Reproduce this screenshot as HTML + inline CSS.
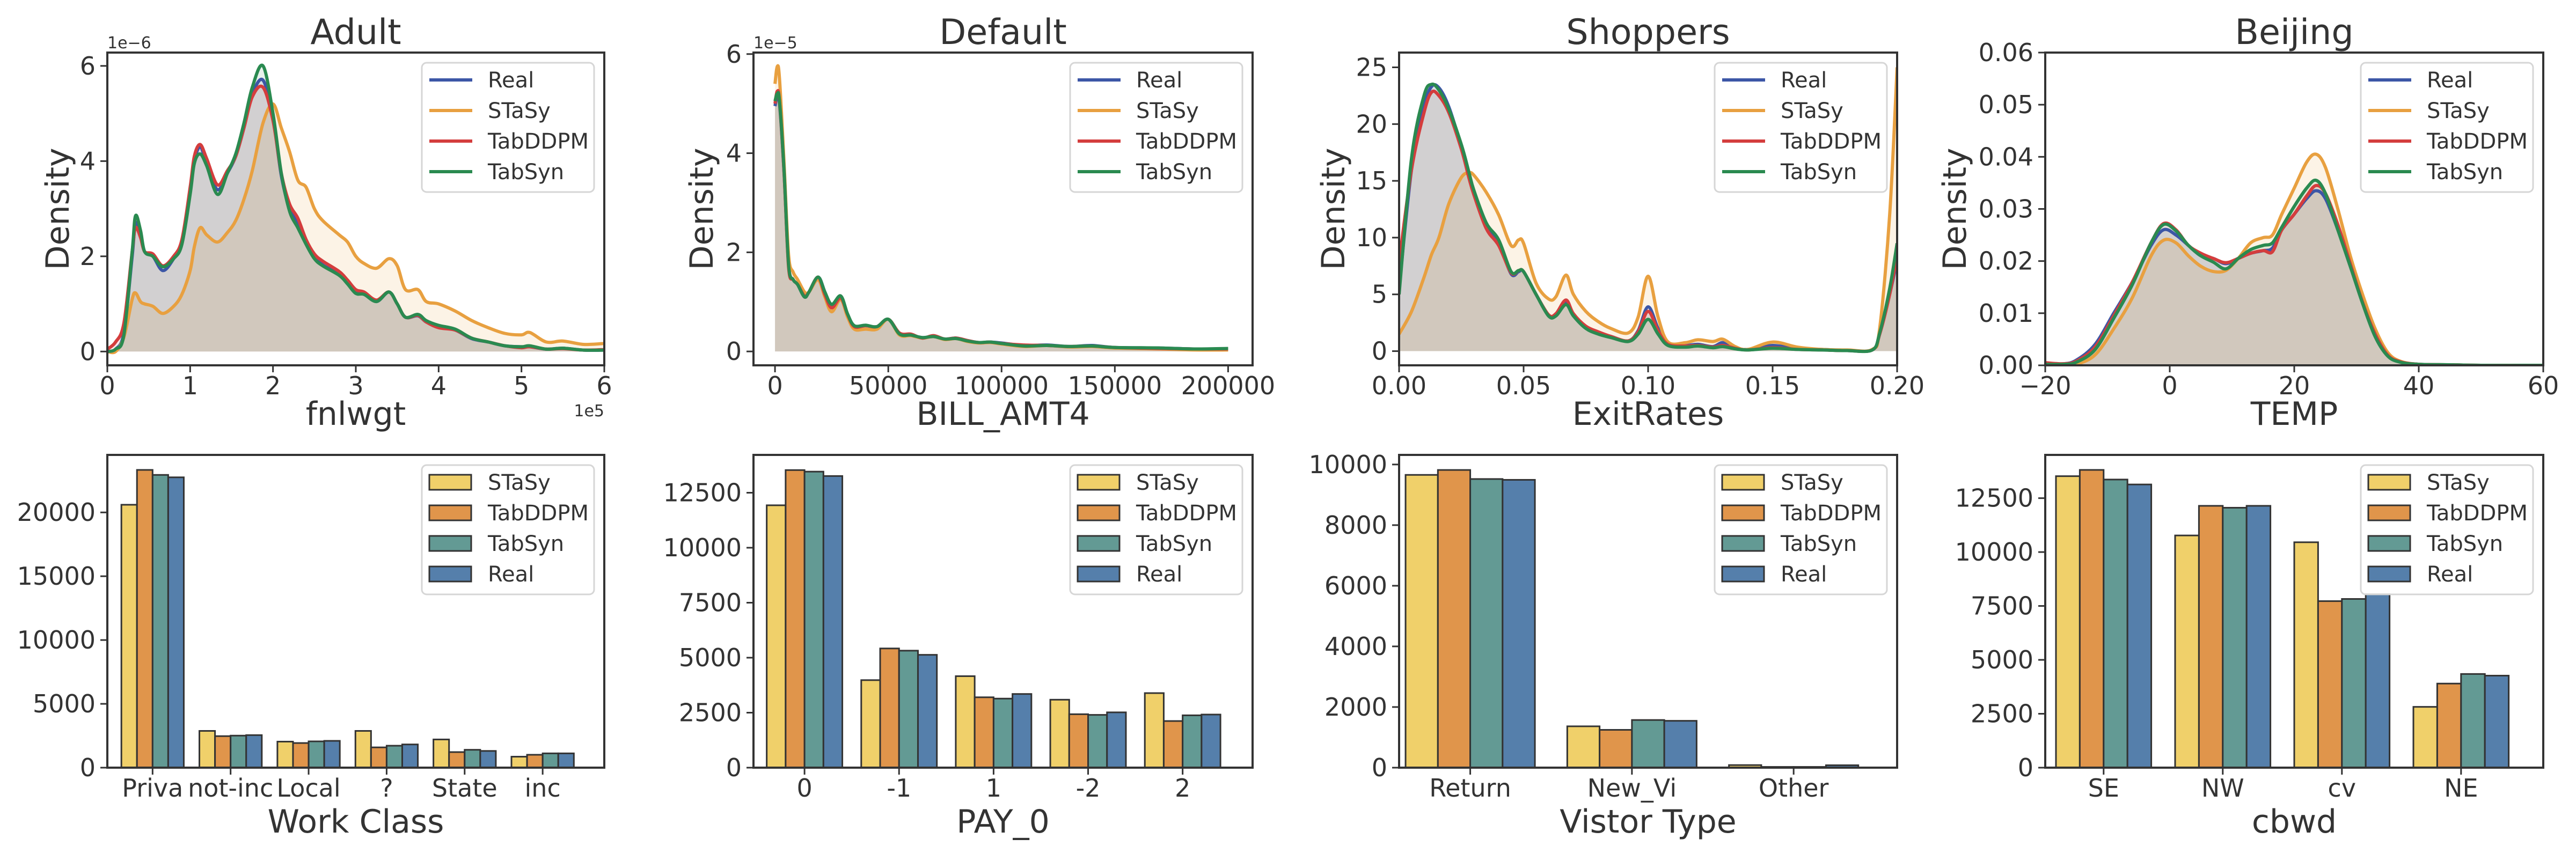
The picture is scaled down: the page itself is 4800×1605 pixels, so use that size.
<!DOCTYPE html>
<html><head><meta charset="utf-8">
<style>
html,body{margin:0;padding:0;background:#fff;}
svg text{font-family:"DejaVu Sans","Liberation Sans",sans-serif;fill:#333;}
</style></head>
<body>
<svg id="fig" xmlns="http://www.w3.org/2000/svg" width="4800" height="1600" viewBox="0 0 4800 1600"></svg>
<script>
// ---------- DATA ----------
// Adult (x in 1e5, y in 1e-6)
const adultX     = [0,0.1,0.2,0.3,0.34,0.4,0.45,0.55,0.67,0.8,0.9,1.0,1.05,1.12,1.2,1.33,1.45,1.55,1.65,1.75,1.88,2.0,2.1,2.2,2.3,2.4,2.5,2.6,2.8,2.9,3.0,3.1,3.25,3.4,3.5,3.6,3.75,3.85,4.0,4.2,4.4,4.6,4.8,5.0,5.1,5.3,5.5,5.75,6.0];
const adultReal  = [0,0.05,0.4,2.0,2.7,2.45,2.1,2.0,1.7,1.95,2.3,3.4,4.0,4.3,3.95,3.4,3.75,4.1,4.7,5.4,5.7,4.9,3.7,3.0,2.7,2.3,2.0,1.82,1.62,1.45,1.25,1.22,1.05,1.25,1.0,0.72,0.75,0.62,0.52,0.45,0.27,0.2,0.12,0.1,0.1,0.05,0.07,0.03,0.03];
const adultSTaSy = [0,0.0,0.3,1.1,1.23,1.05,1.0,0.95,0.8,0.95,1.2,1.7,2.2,2.6,2.45,2.3,2.5,2.75,3.2,3.8,4.8,5.2,4.7,4.2,3.6,3.45,3.0,2.75,2.45,2.3,2.0,1.85,1.75,1.95,1.8,1.3,1.3,1.05,1.0,0.85,0.65,0.5,0.38,0.35,0.4,0.2,0.22,0.15,0.17];
const adultDDPM  = [0.05,0.2,0.6,2.1,2.6,2.4,2.1,2.05,1.8,2.0,2.35,3.45,4.1,4.35,4.05,3.5,3.8,4.1,4.7,5.35,5.55,4.85,3.75,3.1,2.8,2.35,2.05,1.9,1.68,1.5,1.3,1.25,1.08,1.25,1.0,0.72,0.76,0.62,0.5,0.45,0.28,0.2,0.12,0.08,0.1,0.05,0.06,0.03,0.04];
const adultTabSyn= [0,0.05,0.35,2.1,2.85,2.55,2.1,2.0,1.78,1.95,2.25,3.3,3.95,4.15,3.9,3.3,3.75,4.15,4.8,5.55,6.0,5.0,3.75,2.95,2.6,2.25,1.95,1.8,1.6,1.42,1.22,1.2,1.05,1.25,1.0,0.72,0.78,0.65,0.55,0.47,0.28,0.2,0.12,0.1,0.12,0.05,0.07,0.03,0.03];

// Default (x in raw units, y in 1e-5)
const defX     = [0,1000,2000,4000,6000,8000,10000,13000,15000,19000,22000,25000,29000,32000,35000,40000,45000,50000,55000,60000,65000,70000,75000,80000,85000,90000,95000,100000,110000,120000,130000,140000,150000,170000,185000,200000];
const defReal  = [4.95,5.15,5.0,3.6,1.75,1.45,1.35,1.1,1.2,1.5,1.2,0.9,1.1,0.75,0.5,0.52,0.5,0.65,0.35,0.33,0.28,0.3,0.25,0.27,0.22,0.18,0.19,0.17,0.12,0.13,0.1,0.12,0.08,0.07,0.05,0.05];
const defSTaSy = [5.4,5.75,5.5,3.8,1.95,1.6,1.45,1.2,1.2,1.45,1.1,0.8,1.05,0.7,0.45,0.45,0.45,0.65,0.33,0.32,0.27,0.3,0.24,0.26,0.2,0.17,0.18,0.15,0.1,0.12,0.09,0.1,0.07,0.05,0.03,0.03];
const defDDPM  = [5.0,5.25,5.05,3.6,1.7,1.45,1.35,1.12,1.2,1.5,1.15,0.88,1.08,0.75,0.5,0.52,0.5,0.65,0.37,0.35,0.27,0.32,0.25,0.27,0.22,0.18,0.19,0.16,0.13,0.12,0.1,0.11,0.08,0.06,0.05,0.05];
const defTabSyn= [5.05,5.2,5.05,3.65,1.75,1.45,1.35,1.1,1.2,1.5,1.2,0.95,1.12,0.76,0.52,0.53,0.5,0.65,0.35,0.33,0.28,0.3,0.25,0.26,0.21,0.18,0.19,0.16,0.11,0.12,0.1,0.11,0.08,0.07,0.05,0.06];

// Shoppers
const shopX     = [0,0.005,0.01,0.013,0.016,0.02,0.025,0.028,0.03,0.035,0.04,0.045,0.048,0.05,0.055,0.06,0.063,0.067,0.07,0.075,0.08,0.085,0.092,0.096,0.1,0.104,0.108,0.115,0.12,0.126,0.13,0.135,0.14,0.15,0.16,0.17,0.18,0.19,0.193,0.197,0.2];
const shopReal  = [5.5,16,21.5,23.3,23.2,21.5,18,15.5,14,11,9.5,6.8,7.0,7.0,5.0,3.2,3.2,4.3,3.2,2.1,1.6,1.3,0.9,1.8,3.9,2.0,0.6,0.5,0.6,0.4,0.75,0.3,0.15,0.5,0.2,0.15,0.05,0.1,1.5,5,8];
const shopSTaSy = [1.5,3.5,6.5,8.5,10,13,15.3,15.7,15.5,14,12,9.3,9.8,9.5,6.0,4.6,4.8,6.7,5.0,3.5,2.6,2.0,1.6,3.0,6.6,3.0,0.8,0.75,1.0,0.85,1.05,0.4,0.15,0.8,0.35,0.15,0.1,0.15,2,12,25];
const shopDDPM  = [7.8,16,21,22.8,22.5,21,17.8,15.3,13.8,10.8,9.3,6.9,7.1,7.0,5.0,3.2,3.3,4.5,3.3,2.2,1.7,1.3,0.9,1.7,3.5,1.8,0.6,0.45,0.5,0.35,0.5,0.25,0.1,0.3,0.15,0.1,0.05,0.1,1.5,5,8.5];
const shopTabSyn= [5.0,17,22.5,23.5,23.0,21.3,18.2,15.8,14.2,11.3,9.8,7.0,7.1,7.0,5.0,3.1,3.1,4.1,3.1,2.0,1.5,1.2,0.85,1.5,2.8,1.5,0.5,0.35,0.45,0.3,0.4,0.2,0.1,0.25,0.15,0.1,0.05,0.1,1.6,5.5,9.5];

// Beijing
const bjX     = [-20,-17,-15,-12,-9,-6,-3,-1,1,3,5,7,9,11,13,15,16.5,18,20,22,23.5,25,27,29,31,33,35,37,40,45,50,60];
const bjReal  = [0.0003,0.0003,0.001,0.004,0.01,0.016,0.023,0.026,0.025,0.023,0.021,0.0205,0.0195,0.0205,0.0215,0.022,0.0225,0.026,0.029,0.032,0.0335,0.032,0.026,0.019,0.012,0.006,0.002,0.0007,0.0002,0.0001,0,0];
const bjSTaSy = [0,0,0.0002,0.002,0.007,0.013,0.021,0.024,0.0235,0.021,0.019,0.018,0.0182,0.0205,0.0235,0.0245,0.025,0.029,0.034,0.039,0.0405,0.038,0.03,0.021,0.0135,0.007,0.0025,0.0008,0.0002,0.0001,0,0];
const bjDDPM  = [0.0005,0.0003,0.0008,0.0035,0.0095,0.016,0.0235,0.0272,0.026,0.023,0.0215,0.0205,0.0197,0.0205,0.0215,0.022,0.0218,0.026,0.029,0.0325,0.0345,0.033,0.027,0.0195,0.012,0.006,0.002,0.0007,0.0002,0.0001,0,0];
const bjTabSyn= [0.0002,0.0002,0.0006,0.003,0.009,0.0155,0.0235,0.027,0.0258,0.023,0.021,0.0198,0.0185,0.0205,0.0222,0.023,0.0235,0.0265,0.0305,0.034,0.0355,0.033,0.026,0.019,0.0118,0.0055,0.0018,0.0006,0.0002,0.0001,0,0];

// Bar charts
const adultCats = ["Priva","not-inc","Local","?","State","inc"];
const adultBarSTaSy = [20600,2880,2040,2880,2210,860];
const adultBarDDPM  = [23330,2470,1930,1590,1220,1010];
const adultBarTabSyn= [22940,2510,2060,1720,1400,1120];
const adultBarReal  = [22750,2550,2100,1820,1310,1120];

const payCats = ["0","-1","1","-2","2"];
const payBarSTaSy = [11930,3980,4160,3090,3390];
const payBarDDPM  = [13530,5420,3200,2430,2120];
const payBarTabSyn= [13460,5320,3140,2400,2380];
const payBarReal  = [13260,5130,3350,2515,2415];

const visCats = ["Return","New_Vi","Other"];
const visBarSTaSy = [9657,1364,85];
const visBarDDPM  = [9819,1247,25];
const visBarTabSyn= [9521,1572,25];
const visBarReal  = [9494,1545,80];

const cbwdCats = ["SE","NW","cv","NE"];
const cbwdBarSTaSy = [13520,10770,10455,2820];
const cbwdBarDDPM  = [13810,12144,7724,3900];
const cbwdBarTabSyn= [13364,12056,7825,4345];
const cbwdBarReal  = [13135,12144,8050,4268];

// Ticks
const adultXTicks = [0,1,2,3,4,5,6];
const adultYTicks = [0,2,4,6];
const defXTicks = [0,50000,100000,150000,200000];
const defYTicks = [0,2,4,6];
const shopXTicks = [0,0.05,0.10,0.15,0.20];
const shopXTickLabels = ["0.00","0.05","0.10","0.15","0.20"];
const shopYTicks = [0,5,10,15,20,25];
const bjXTicks = [-20,0,20,40,60];
const bjXTickLabels = ["\u221220","0","20","40","60"];
const bjYTicks = [0,0.01,0.02,0.03,0.04,0.05,0.06];
const bjYTickLabels = ["0.00","0.01","0.02","0.03","0.04","0.05","0.06"];
const adultBarYTicks = [0,5000,10000,15000,20000];
const payBarYTicks = [0,2500,5000,7500,10000,12500];
const visBarYTicks = [0,2000,4000,6000,8000,10000];
const cbwdBarYTicks = [0,2500,5000,7500,10000,12500];

// ---------- DRAWING ----------
const NS = "http://www.w3.org/2000/svg";
const svg = document.getElementById("fig");
const lineColors = {Real:"#3c56a6",STaSy:"#e8a040",TabDDPM:"#d43d3d",TabSyn:"#2a8a50"};
const barColors = {STaSy:"#f0d06a",TabDDPM:"#e0954b",TabSyn:"#639a94",Real:"#557fab"};
const INK = "#333333";

function mk(tag, attrs, parent){
  const e = document.createElementNS(NS, tag);
  for (const k in attrs) e.setAttribute(k, attrs[k]);
  (parent||svg).appendChild(e);
  return e;
}
function txt(str, x, y, size, anchor, parent, extra){
  const t = mk("text", Object.assign({x:x, y:y, "font-size":size, "text-anchor":anchor||"middle"}, extra||{}), parent);
  t.textContent = str;
  return t;
}
function scale(d0,d1,r0,r1){ return v => r0 + (v-d0)/(d1-d0)*(r1-r0); }
function smoothPath(pts){
  let d = "M"+pts[0][0].toFixed(1)+","+pts[0][1].toFixed(1);
  for (let i=0;i<pts.length-1;i++){
    const p0=pts[i-1]||pts[i], p1=pts[i], p2=pts[i+1], p3=pts[i+2]||p2;
    const c1=[p1[0]+(p2[0]-p0[0])/6, p1[1]+(p2[1]-p0[1])/6];
    const c2=[p2[0]-(p3[0]-p1[0])/6, p2[1]-(p3[1]-p1[1])/6];
    d += "C"+c1[0].toFixed(1)+","+c1[1].toFixed(1)+" "+c2[0].toFixed(1)+","+c2[1].toFixed(1)+" "+p2[0].toFixed(1)+","+p2[1].toFixed(1);
  }
  return d;
}
function axesFrame(g, L, R, T, B){
  const f = mk("rect",{x:L,y:T,width:R-L,height:B-T,fill:"none",stroke:INK,"stroke-width":4},g);
  
  
}
function legend(g, R, T, names, kind, colors){
  const lg = mk("g",{},g);
  
  
  const W=321, H=241, x0=R-19-W, y0=T+19;
  mk("rect",{x:x0,y:y0,width:W,height:H,rx:9,fill:"#fff","fill-opacity":0.85,stroke:"#d6d6d6","stroke-width":3},lg);
  const offs=[32,89,146,203];
  names.forEach((n,i)=>{
    const e = mk("g",{},lg);
    
    
    const cy = y0+offs[i];
    if (kind==="line") mk("line",{x1:x0+14,x2:x0+94,y1:cy,y2:cy,stroke:colors[n],"stroke-width":6},e);
    else mk("rect",{x:x0+14,y:cy-14,width:78,height:28,fill:colors[n],stroke:INK,"stroke-width":3},e);
    txt(n, x0+123, cy+14, 40, "start", e);
  });
}

function kdePanel(cfg){
  const g = mk("g",{});
  
  
  const {L,R,T,B} = cfg;
  const sx = scale(cfg.xlim[0],cfg.xlim[1],L,R);
  const sy = scale(cfg.ylim[0],cfg.ylim[1],B,T);
  const clipId = cfg.name+"-clip";
  const cp = mk("clipPath",{id:clipId},g);
  mk("rect",{x:L,y:T,width:R-L,height:B-T},cp);
  const plot = mk("g",{"clip-path":"url(#"+clipId+")"},g);
  const order = ["Real","STaSy","TabDDPM","TabSyn"];
  const fillOp = {Real:0.11,STaSy:0.13,TabDDPM:0.11,TabSyn:0.11};
  order.forEach(n=>{
    const ys = cfg.series[n];
    const pts = cfg.x.map((xv,i)=>[sx(xv), sy(ys[i])]);
    const base = sy(0);
    const area = mk("path",{d:smoothPath(pts)+"L"+pts[pts.length-1][0].toFixed(1)+","+base+"L"+pts[0][0].toFixed(1)+","+base+"Z",fill:lineColors[n],"fill-opacity":fillOp[n],stroke:"none"},plot);
    
    
  });
  order.forEach(n=>{
    const ys = cfg.series[n];
    const pts = cfg.x.map((xv,i)=>[sx(xv), sy(ys[i])]);
    const ln = mk("path",{d:smoothPath(pts),fill:"none",stroke:lineColors[n],"stroke-width":6,"stroke-linejoin":"round"},plot);
    
    
  });
  axesFrame(g,L,R,T,B);
  cfg.xticks.forEach((v,i)=>{
    const x = sx(v);
    mk("line",{x1:x,x2:x,y1:B,y2:B+13,stroke:INK,"stroke-width":3},g);
    const t = txt(cfg.xtickLabels?cfg.xtickLabels[i]:String(v), x, B+54, 46, "middle", g);
    
    
  });
  cfg.yticks.forEach((v,i)=>{
    const y = sy(v);
    mk("line",{x1:L,x2:L-13,y1:y,y2:y,stroke:INK,"stroke-width":3},g);
    const t = txt(cfg.ytickLabels?cfg.ytickLabels[i]:String(v), L-22, y+16, 46, "end", g);
    
    
  });
  const ti = txt(cfg.title,(L+R)/2,82,65,"middle",g);
  
  
  const xl = txt(cfg.xlabel,(L+R)/2,792,60,"middle",g);
  
  
  const yl = txt("Density",0,0,60,"middle",g,{transform:"translate("+(cfg.ylabX+21)+","+((T+B)/2)+") rotate(-90)"});
  
  
  if (cfg.yOffset){
    const o = txt(cfg.yOffset, L, 90, 30, "start", g);
    
    
  }
  if (cfg.xOffset){
    const o = txt(cfg.xOffset, R, 776, 30, "end", g);
    
    
  }
  legend(g,R,T,order,"line",lineColors);
}

function barPanel(cfg){
  const g = mk("g",{});
  
  
  const {L,R,T,B} = cfg;
  const sx = scale(cfg.xlim[0],cfg.xlim[1],L,R);
  const sy = scale(0,cfg.ytop,B,T);
  const order = ["STaSy","TabDDPM","TabSyn","Real"];
  order.forEach((n,si)=>{
    cfg.series[n].forEach((v,ci)=>{
      const x0 = sx(ci-0.4+si*0.2), x1 = sx(ci-0.4+(si+1)*0.2);
      const r = mk("rect",{x:x0,y:sy(v),width:x1-x0,height:B-sy(v),fill:barColors[n],stroke:INK,"stroke-width":3},g);
      
      
    });
  });
  axesFrame(g,L,R,T,B);
  cfg.cats.forEach((c,i)=>{
    const x = sx(i);
    mk("line",{x1:x,x2:x,y1:B,y2:B+13,stroke:INK,"stroke-width":3},g);
    const t = txt(c, x, B+54, 46, "middle", g);
    
    
  });
  cfg.yticks.forEach(v=>{
    const y = sy(v);
    mk("line",{x1:L,x2:L-13,y1:y,y2:y,stroke:INK,"stroke-width":3},g);
    const t = txt(String(v), L-22, y+16, 46, "end", g);
    
    
  });
  const xl = txt(cfg.xlabel,(L+R)/2,1552,60,"middle",g);
  
  
  legend(g,R,T,order,"rect",barColors);
}

const cols = [[200,1126],[1404,2334],[2607,3535],[3811,4739]];
const TT=98, TB=681, BT=848, BB=1431;

kdePanel({name:"adult-density-panel",L:cols[0][0],R:cols[0][1],T:TT,B:TB,xlim:[0,6],ylim:[-0.29,6.28],x:adultX,
  series:{Real:adultReal,STaSy:adultSTaSy,TabDDPM:adultDDPM,TabSyn:adultTabSyn},
  xticks:adultXTicks,yticks:adultYTicks,title:"Adult",xlabel:"fnlwgt",ylabX:107,yOffset:"1e\u22126",xOffset:"1e5"});
kdePanel({name:"default-density-panel",L:cols[1][0],R:cols[1][1],T:TT,B:TB,xlim:[-9500,210800],ylim:[-0.28,6.03],x:defX,
  series:{Real:defReal,STaSy:defSTaSy,TabDDPM:defDDPM,TabSyn:defTabSyn},
  xticks:defXTicks,yticks:defYTicks,title:"Default",xlabel:"BILL_AMT4",ylabX:1307,yOffset:"1e\u22125"});
kdePanel({name:"shoppers-density-panel",L:cols[2][0],R:cols[2][1],T:TT,B:TB,xlim:[0,0.2],ylim:[-1.25,26.3],x:shopX,
  series:{Real:shopReal,STaSy:shopSTaSy,TabDDPM:shopDDPM,TabSyn:shopTabSyn},
  xticks:shopXTicks,xtickLabels:shopXTickLabels,yticks:shopYTicks,title:"Shoppers",xlabel:"ExitRates",ylabX:2484});
kdePanel({name:"beijing-density-panel",L:cols[3][0],R:cols[3][1],T:TT,B:TB,xlim:[-20,60],ylim:[0,0.06],x:bjX,
  series:{Real:bjReal,STaSy:bjSTaSy,TabDDPM:bjDDPM,TabSyn:bjTabSyn},
  xticks:bjXTicks,xtickLabels:bjXTickLabels,yticks:bjYTicks,ytickLabels:bjYTickLabels,title:"Beijing",xlabel:"TEMP",ylabX:3642});

barPanel({name:"work-class-bar-panel",L:cols[0][0],R:cols[0][1],T:BT,B:BB,xlim:[-0.58,5.79],ytop:24506,cats:adultCats,
  series:{STaSy:adultBarSTaSy,TabDDPM:adultBarDDPM,TabSyn:adultBarTabSyn,Real:adultBarReal},yticks:adultBarYTicks,xlabel:"Work Class"});
barPanel({name:"pay0-bar-panel",L:cols[1][0],R:cols[1][1],T:BT,B:BB,xlim:[-0.54,4.74],ytop:14220,cats:payCats,
  series:{STaSy:payBarSTaSy,TabDDPM:payBarDDPM,TabSyn:payBarTabSyn,Real:payBarReal},yticks:payBarYTicks,xlabel:"PAY_0"});
barPanel({name:"visitor-type-bar-panel",L:cols[2][0],R:cols[2][1],T:BT,B:BB,xlim:[-0.44,2.64],ytop:10316,cats:visCats,
  series:{STaSy:visBarSTaSy,TabDDPM:visBarDDPM,TabSyn:visBarTabSyn,Real:visBarReal},yticks:visBarYTicks,xlabel:"Vistor Type"});
barPanel({name:"cbwd-bar-panel",L:cols[3][0],R:cols[3][1],T:BT,B:BB,xlim:[-0.49,3.69],ytop:14506,cats:cbwdCats,
  series:{STaSy:cbwdBarSTaSy,TabDDPM:cbwdBarDDPM,TabSyn:cbwdBarTabSyn,Real:cbwdBarReal},yticks:cbwdBarYTicks,xlabel:"cbwd"});
</script>
</body></html>
